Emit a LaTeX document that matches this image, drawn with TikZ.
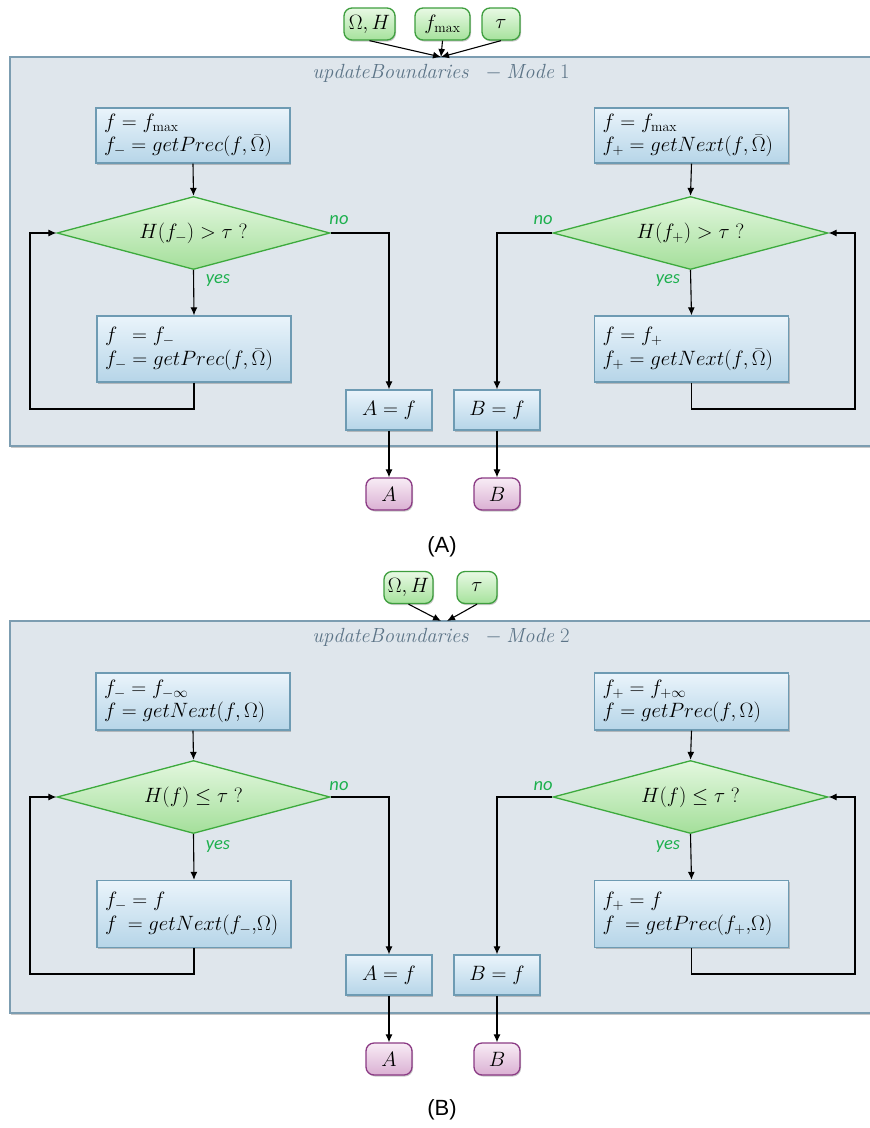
\documentclass[tikz,border=0pt]{standalone}
\usepackage{fontspec}
\newfontfamily\carlito{Carlito}
\newfontfamily\libsans{Liberation Sans}
\usetikzlibrary{shapes.geometric,arrows.meta,shadows,calc}
\definecolor{contfill}{HTML}{DFE6EC}
\definecolor{contborder}{HTML}{7C9DB1}
\definecolor{boxtop}{HTML}{EAF4FB}
\definecolor{boxbot}{HTML}{B6D5E8}
\definecolor{boxborder}{HTML}{6E9BB3}
\definecolor{diatop}{HTML}{E3F7DF}
\definecolor{diabot}{HTML}{A4DF9A}
\definecolor{diaborder}{HTML}{3DAA3D}
\definecolor{intop}{HTML}{E8F9E4}
\definecolor{inbot}{HTML}{A6E29C}
\definecolor{inborder}{HTML}{3E9E3E}
\definecolor{outtop}{HTML}{F8ECF5}
\definecolor{outbot}{HTML}{DAB0D3}
\definecolor{outborder}{HTML}{8B3A84}
\definecolor{lblgreen}{HTML}{1DB04E}
\definecolor{titlecol}{HTML}{5C7487}
\tikzset{
  shad/.style={drop shadow={shadow xshift=1pt,shadow yshift=-1.5pt,opacity=0.3,fill=black!70}},
  container/.style={draw=contborder,line width=1.5pt,fill=contfill,shad,inner sep=0},
  proc/.style={draw=boxborder,line width=1.3pt,top color=boxtop,bottom color=boxbot,shad,
    text width=178pt,align=left,inner xsep=8pt,inner ysep=1pt,font=\fontsize{20}{23.5}\selectfont},
  smallproc/.style={draw=boxborder,line width=1.3pt,top color=boxtop,bottom color=boxbot,shad,
    minimum width=86pt,minimum height=40pt,inner sep=0,font=\fontsize{20}{23}\selectfont},
  decis/.style={diamond,draw=diaborder,line width=1.3pt,top color=diatop,bottom color=diabot,
    aspect=3.7,inner sep=0,font=\fontsize{20}{23}\selectfont},
  innode/.style={draw=inborder,line width=1.3pt,top color=intop,bottom color=inbot,rounded corners=8pt,
    shad,minimum height=32pt,inner sep=0,font=\fontsize{20}{23}\selectfont},
  outnode/.style={draw=outborder,line width=1.3pt,top color=outtop,bottom color=outbot,rounded corners=8pt,
    shad,minimum width=46pt,minimum height=32pt,inner sep=0,font=\fontsize{20}{23}\selectfont},
  arr/.style={-{Latex[length=8pt,width=7pt]},line width=1.1pt,black},
  lbl/.style={text=lblgreen,font=\carlito\itshape\fontsize{18.5}{20}\selectfont,inner sep=0},
  ttl/.style={text=titlecol,font=\fontsize{20.5}{23}\selectfont,inner sep=0},
  captext/.style={font=\libsans\fontsize{22}{24}\selectfont,inner sep=0},
}
\begin{document}
\begin{tikzpicture}[x=1pt,y=-1pt]
\useasboundingbox (0,0) rectangle (870,1128);
\clip (0,0) rectangle (870,1128);
% ================= Panel A =================
\node[container,minimum width=880pt,minimum height=389pt] (frA) at (450,251.5) {};
\coordinate (topA) at (441,57);
\node[ttl] (ttlA) at (441,73) {$\mathit{updateBoundaries}\ \ -\mathit{Mode}\ 1$};
\node[innode,minimum width=51pt] (inA1) at (369.5,24) {$\Omega,H$};
\node[innode,minimum width=55pt] (inA2) at (442.5,24) {$f_{\max}$};
\node[innode,minimum width=38pt] (inA3) at (501,24) {$\tau$};
\draw[arr] (inA1.south) -- (topA);
\draw[arr] (inA2.south) -- (topA);
\draw[arr] (inA3.south) -- (topA);
\node[proc,minimum height=55pt] (aL1) at (193,135.5) {\mbox{$f = f_{\max}$}\\ \mbox{$f_- = getPrec(f,\bar{\Omega})$}};
\node[proc,minimum height=55pt] (aR1) at (691.5,135.5) {\mbox{$f = f_{\max}$}\\ \mbox{$f_+ = getNext(f,\bar{\Omega})$}};
\node[decis,minimum width=273pt,minimum height=73pt] (aDL) at (193.5,233) {$H(f_-) > \tau\;?$};
\node[decis,minimum width=275pt,minimum height=73pt] (aDR) at (690.5,233) {$H(f_+) > \tau\;?$};
\node[proc,minimum height=66pt] (aL2) at (194,349) {\mbox{$f\;\, = f_-$}\\ \mbox{$f_- = getPrec(f,\bar{\Omega})$}};
\node[proc,minimum height=66pt] (aR2) at (691.5,349) {\mbox{$f = f_+$}\\ \mbox{$f_+ = getNext(f,\bar{\Omega})$}};
\node[smallproc] (aA) at (389,410) {$A = f$};
\node[smallproc] (aB) at (497,410) {$B = f$};
\node[outnode] (aoA) at (389,494) {$A$};
\node[outnode] (aoB) at (497,494) {$B$};
\coordinate (alpL) at (30,409);
\coordinate (alpR) at (855,409);
\draw[arr] (aL1.south) -- (aDL.north);
\draw[arr] (aR1.south) -- (aDR.north);
\draw[arr] (aDL.south) -- (aL2.north);
\draw[arr] (aDR.south) -- (aR2.north);
\draw[arr] (aL2.south) |- (alpL) |- (aDL.west);
\draw[arr] (aR2.south) |- (alpR) |- (aDR.east);
\draw[arr] (aDL.east) -| (aA.north);
\draw[arr] (aDR.west) -| (aB.north);
\draw[arr] (aA.south) -- (aoA.north);
\draw[arr] (aB.south) -- (aoB.north);
\node[lbl] (anoL) at (339,220) {no};
\node[lbl] (anoR) at (543,220) {no};
\node[lbl] (ayesL) at (218,281) {yes};
\node[lbl] (ayesR) at (668,281) {yes};
\node[captext] (capA) at (442,547) {(A)};
% ================= Panel B =================
\begin{scope}[yshift=-564pt]
\node[container,minimum width=880pt,minimum height=392pt] (frB) at (450,253) {};
\coordinate (topB1) at (441,57);
\coordinate (topB2) at (447,57);
\node[ttl] (ttlB) at (441,73) {$\mathit{updateBoundaries}\ \ -\mathit{Mode}\ 2$};
\node[innode,minimum width=49pt] (inB1) at (408.5,23.5) {$\Omega,H$};
\node[innode,minimum width=40pt] (inB2) at (477,23.5) {$\tau$};
\draw[arr] (inB1.south) -- (topB1);
\draw[arr] (inB2.south) -- (topB2);
\node[proc,minimum height=57pt] (bL1) at (193,137.5) {\mbox{$f_- = f_{-\infty}$}\\ \mbox{$f = getNext(f,\Omega)$}};
\node[proc,minimum height=57pt] (bR1) at (691.5,137.5) {\mbox{$f_+ = f_{+\infty}$}\\ \mbox{$f = getPrec(f,\Omega)$}};
\node[decis,minimum width=273pt,minimum height=73pt] (bDL) at (193.5,233) {$H(f) \le \tau\;?$};
\node[decis,minimum width=275pt,minimum height=73pt] (bDR) at (690.5,233) {$H(f) \le \tau\;?$};
\node[proc,minimum height=67pt] (bL2) at (194,350) {\mbox{$f_- = f$}\\ \mbox{$f\phantom{_-}\!\! = getNext(f_-,\!\Omega)$}};
\node[proc,minimum height=67pt] (bR2) at (691.5,350) {\mbox{$f_+ = f$}\\ \mbox{$f\phantom{_+}\!\! = getPrec(f_+,\!\Omega)$}};
\node[smallproc] (bA) at (389,411) {$A = f$};
\node[smallproc] (bB) at (497,411) {$B = f$};
\node[outnode] (boA) at (389,495) {$A$};
\node[outnode] (boB) at (497,495) {$B$};
\coordinate (blpL) at (30,410);
\coordinate (blpR) at (855,410);
\draw[arr] (bL1.south) -- (bDL.north);
\draw[arr] (bR1.south) -- (bDR.north);
\draw[arr] (bDL.south) -- (bL2.north);
\draw[arr] (bDR.south) -- (bR2.north);
\draw[arr] (bL2.south) |- (blpL) |- (bDL.west);
\draw[arr] (bR2.south) |- (blpR) |- (bDR.east);
\draw[arr] (bDL.east) -| (bA.north);
\draw[arr] (bDR.west) -| (bB.north);
\draw[arr] (bA.south) -- (boA.north);
\draw[arr] (bB.south) -- (boB.north);
\node[lbl] (bnoL) at (339,222) {no};
\node[lbl] (bnoR) at (543,222) {no};
\node[lbl] (byesL) at (218,282) {yes};
\node[lbl] (byesR) at (668,282) {yes};
\node[captext] (capB) at (442,546) {(B)};
\end{scope}
\end{tikzpicture}
\end{document}
